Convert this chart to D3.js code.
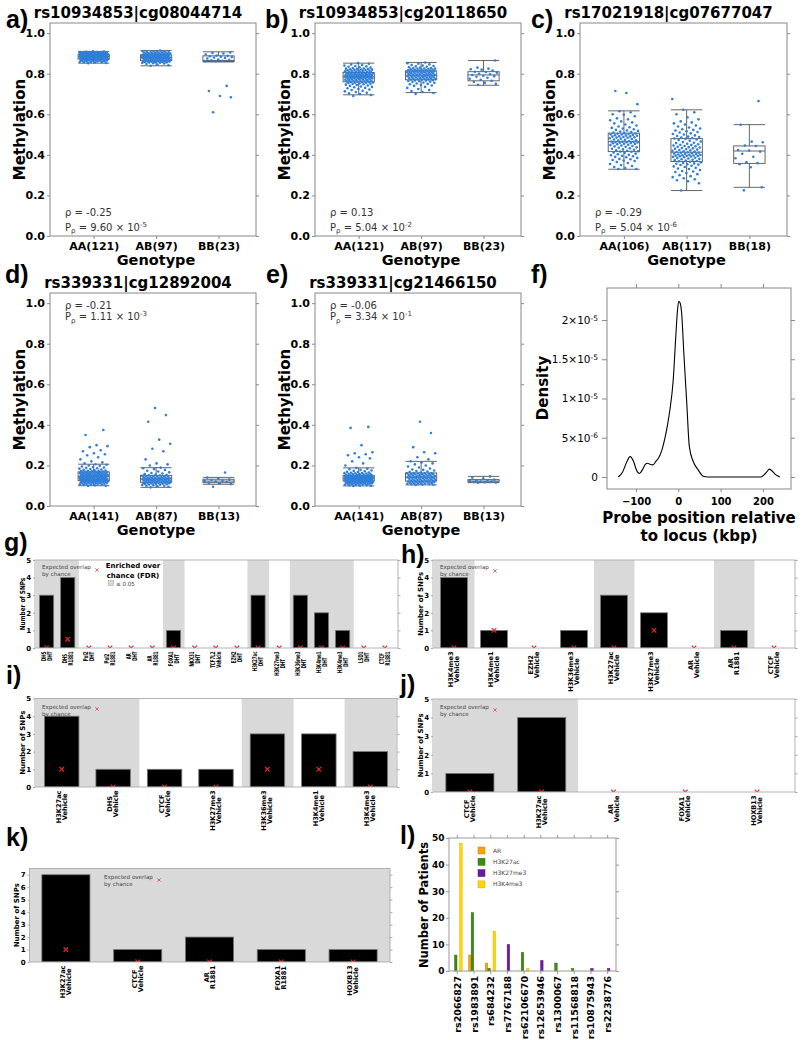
<!DOCTYPE html>
<html><head><meta charset="utf-8">
<script src="https://cdn.jsdelivr.net/npm/d3@7"></script>
<style>
body{margin:0;background:#fff;}
svg{display:block;font-family:"DejaVu Sans",sans-serif;}
</style></head><body>
<svg id="c" width="802" height="1040"></svg>
<script>
// ---------------- DATA ----------------
const methTicks = [0,0.2,0.4,0.6,0.8,1.0];
// panel a
const aTitle = "rs10934853|cg08044714";
const aLabels = ["AA(121)","AB(97)","BB(23)"];
const aBox = [[.852,.872,.885,.896,.91],[.839,.864,.88,.893,.914],[.858,.86,.865,.888,.908]];
const aPts = [
[.852,.853,.855,.856,.857,.858,.859,.86,.861,.862,.862,.863,.864,.865,.865,.866,.867,.867,.868,.868,.869,.869,.87,.87,.871,.871,.871,.872,.872,.872,
.873,.873,.874,.874,.875,.875,.876,.876,.877,.877,.878,.878,.879,.879,.88,.88,.881,.881,.882,.882,.882,.883,.883,.883,.884,.884,.884,.885,.885,.885,
.886,.886,.886,.887,.887,.887,.888,.888,.889,.889,.889,.89,.89,.89,.891,.891,.892,.892,.892,.893,.893,.893,.894,.894,.894,.895,.895,.895,.896,.896,
.897,.897,.897,.898,.898,.898,.899,.899,.899,.9,.9,.9,.901,.901,.901,.902,.902,.902,.903,.903,.903,.904,.904,.905,.905,.906,.906,.907,.908,.909,.91],
[.839,.842,.845,.848,.85,.852,.853,.854,.855,.856,.857,.858,.858,.859,.86,.86,.861,.861,.862,.862,.863,.863,.864,.864,
.865,.866,.867,.867,.868,.869,.869,.87,.871,.871,.872,.873,.873,.874,.875,.875,.876,.876,.877,.878,.878,.879,.879,.88,
.88,.881,.882,.882,.883,.883,.884,.885,.885,.886,.886,.887,.887,.888,.889,.889,.89,.89,.891,.891,.892,.892,.893,.893,
.894,.894,.895,.896,.896,.897,.897,.898,.899,.9,.9,.901,.902,.903,.903,.904,.905,.906,.907,.908,.909,.91,.911,.912,.914],
[.61,.684,.69,.715,.74,.861,.862,.864,.866,.868,.87,.875,.878,.88,.882,.884,.886,.888,.89,.895,.9,.902,.905]];
const aRho = "-0.25", aP = ["9.60","-5"];
// panel b
const bTitle = "rs10934853|cg20118650";
const bLabels = ["AA(121)","AB(97)","BB(23)"];
const bBox = [[.696,.76,.785,.806,.852],[.707,.77,.793,.814,.855],[.743,.765,.794,.81,.865]];
const bPts = [
[.69,.695,.70,.703,.706,.71,.713,.716,.72,.722,.725,.728,.73,.733,.735,.737,.74,.742,.744,.746,.748,.75,.751,.752,.754,.755,.756,.757,.758,.759,
.76,.761,.762,.763,.764,.765,.766,.767,.768,.769,.77,.771,.772,.773,.774,.775,.776,.777,.778,.778,.779,.78,.78,.781,.782,.782,.783,.783,.784,.785,
.785,.786,.787,.787,.788,.789,.789,.79,.791,.791,.792,.793,.793,.794,.795,.795,.796,.797,.797,.798,.799,.8,.8,.801,.802,.803,.803,.804,.805,.806,
.807,.808,.809,.81,.811,.812,.813,.814,.815,.816,.817,.818,.819,.82,.821,.822,.823,.824,.825,.826,.828,.83,.832,.834,.836,.838,.84,.843,.846,.849,.852],
[.70,.705,.71,.715,.72,.725,.73,.735,.74,.742,.745,.748,.75,.752,.755,.757,.76,.761,.763,.764,.766,.767,.768,.77,
.771,.772,.773,.774,.775,.776,.777,.778,.779,.78,.781,.782,.783,.784,.785,.786,.787,.788,.789,.79,.79,.791,.792,.793,
.794,.795,.796,.797,.798,.799,.8,.801,.802,.803,.804,.805,.806,.807,.807,.808,.809,.81,.81,.811,.812,.812,.813,.814,
.815,.816,.817,.818,.819,.82,.821,.822,.823,.824,.825,.826,.827,.828,.83,.832,.834,.836,.838,.84,.843,.846,.849,.852,.855],
[.745,.75,.755,.76,.765,.77,.775,.78,.785,.788,.79,.794,.797,.8,.805,.808,.81,.815,.82,.822,.825,.83,.865]];
const bRho = "0.13", bP = ["5.04","-2"];
// panel c
const cTitle = "rs17021918|cg07677047";
const cLabels = ["AA(106)","AB(117)","BB(18)"];
const cBox = [[.329,.416,.465,.507,.617],[.224,.367,.413,.48,.622],[.24,.358,.419,.444,.549]];
const cPts = [
[.33,.33,.335,.34,.345,.35,.355,.36,.365,.37,.372,.375,.378,.38,.385,.388,.39,.393,.395,.398,.40,.403,.406,.41,.412,.415,
.416,.418,.42,.422,.425,.427,.43,.432,.435,.437,.44,.442,.444,.446,.448,.45,.452,.454,.455,.457,.458,.46,.461,.462,.463,.464,.465,
.466,.468,.47,.472,.474,.476,.478,.48,.482,.484,.485,.487,.488,.49,.491,.492,.494,.495,.497,.498,.5,.501,.503,.504,.505,.507,
.51,.512,.515,.518,.52,.523,.526,.53,.533,.536,.54,.545,.55,.555,.56,.565,.57,.575,.58,.59,.598,.6,.61,.615,.65,.705,.715],
[.224,.26,.27,.275,.28,.285,.29,.295,.3,.305,.31,.315,.318,.32,.325,.33,.333,.336,.34,.343,.346,.35,.352,.354,.356,.358,.36,.363,.366,
.368,.37,.372,.374,.376,.378,.38,.382,.384,.386,.388,.39,.392,.393,.394,.395,.396,.397,.398,.399,.4,.402,.404,.405,.407,.408,.41,.411,.413,
.414,.416,.418,.42,.422,.424,.426,.428,.43,.432,.434,.436,.438,.44,.442,.444,.446,.448,.45,.452,.455,.458,.46,.463,.466,.47,.473,.476,.479,
.481,.483,.485,.488,.49,.493,.496,.5,.503,.506,.51,.513,.516,.52,.523,.526,.53,.535,.54,.545,.55,.555,.56,.565,.575,.585,.6,.61,.622,.675],
[.225,.24,.339,.354,.359,.364,.383,.391,.405,.416,.421,.424,.444,.446,.462,.465,.548,.665]];
const cRho = "-0.29", cP = ["5.04","-6"];
// panel d
const dTitle = "rs339331|cg12892004";
const dLabels = ["AA(141)","AB(87)","BB(13)"];
const dBox = [[.1,.125,.145,.168,.206],[.092,.117,.133,.151,.189],[.107,.115,.123,.132,.141]];
const dPts = [
[.10,.10,.102,.104,.105,.106,.107,.108,.109,.11,.11,.111,.112,.113,.114,.114,.115,.116,.116,.117,.118,.118,.119,.12,.12,.121,.121,.122,.122,.123,.123,.124,.124,.125,.125,
.126,.126,.127,.127,.128,.128,.129,.129,.13,.13,.131,.131,.132,.132,.133,.133,.134,.134,.135,.135,.136,.136,.137,.137,.138,.138,.139,.139,.14,.14,.141,.142,.143,.144,.145,
.146,.146,.147,.147,.148,.148,.149,.15,.15,.151,.151,.152,.153,.153,.154,.155,.155,.156,.157,.157,.158,.159,.16,.16,.161,.162,.162,.163,.164,.165,.165,.166,.167,.167,.168,
.169,.17,.171,.172,.173,.174,.175,.176,.178,.18,.182,.184,.186,.188,.19,.192,.195,.198,.2,.203,.206,.21,.215,.22,.23,.24,.25,.255,.26,.27,.275,.29,.295,.3,.35,.375],
[.092,.095,.097,.099,.1,.102,.104,.105,.106,.107,.108,.109,.11,.111,.112,.113,.113,.114,.115,.115,.116,.117,
.118,.119,.12,.121,.122,.122,.123,.124,.124,.125,.126,.126,.127,.128,.128,.129,.13,.13,.131,.132,.132,.133,
.134,.135,.135,.136,.137,.138,.139,.14,.14,.141,.142,.143,.144,.145,.146,.147,.148,.149,.15,.151,
.153,.155,.157,.16,.163,.166,.17,.174,.178,.182,.186,.189,.2,.205,.21,.23,.27,.282,.307,.327,.415,.448,.483],
[.095,.108,.112,.115,.118,.12,.123,.125,.128,.13,.135,.14,.165]];
const dRho = "-0.21", dP = ["1.11","-3"];
// panel e
const eTitle = "rs339331|cg21466150";
const eLabels = ["AA(141)","AB(87)","BB(13)"];
const eBox = [[.099,.123,.137,.15,.188],[.104,.123,.143,.163,.22],[.115,.118,.123,.13,.146]];
const ePts = [
[.099,.1,.101,.102,.103,.104,.105,.106,.107,.108,.109,.11,.11,.111,.112,.112,.113,.114,.114,.115,.115,.116,.116,.117,.117,.118,.118,.119,.119,.12,.12,.121,.121,.122,.123,
.123,.124,.124,.125,.125,.126,.126,.126,.127,.127,.128,.128,.128,.129,.129,.13,.13,.13,.131,.131,.132,.132,.132,.133,.133,.134,.134,.134,.135,.135,.135,.136,.136,.137,.137,
.137,.138,.138,.138,.139,.139,.14,.14,.14,.141,.141,.141,.142,.142,.142,.143,.143,.143,.144,.144,.144,.145,.145,.145,.146,.146,.147,.147,.147,.148,.148,.149,.149,.15,.15,
.151,.152,.153,.154,.155,.156,.157,.158,.159,.16,.161,.162,.163,.164,.165,.167,.169,.171,.173,.175,.178,.181,.184,.188,.2,.21,.22,.235,.24,.25,.255,.26,.265,.3,.385,.39],
[.104,.105,.106,.107,.108,.109,.11,.111,.112,.113,.114,.115,.116,.117,.118,.118,.119,.12,.12,.121,.122,.123,
.124,.125,.126,.127,.128,.129,.13,.131,.132,.133,.134,.135,.136,.137,.138,.138,.139,.14,.141,.141,.142,.143,
.144,.145,.146,.147,.148,.149,.15,.151,.152,.153,.154,.155,.156,.157,.158,.159,.16,.161,.162,.162,.163,
.165,.167,.17,.172,.175,.178,.18,.185,.19,.195,.2,.205,.21,.215,.22,.23,.24,.26,.265,.29,.36,.415],
[.115,.116,.117,.118,.12,.121,.123,.125,.127,.13,.135,.14,.146]];
const eRho = "-0.06", eP = ["3.34","-1"];
// panel f (density, x in kbp)
const densX = [-142,-132,-122,-114,-106,-99,-92,-84,-78,-73,-66,-60,-53,-47,-39,-31,-25,-20,-12,-6,-2,1,4,8,13,20,26,35,47,59,70,195,203,210,215,221,230,240];
const densY = [0,0.06e-5,0.19e-5,0.26e-5,0.2e-5,0.09e-5,0.045e-5,0.1e-5,0.16e-5,0.175e-5,0.16e-5,0.155e-5,0.2e-5,0.24e-5,0.34e-5,0.51e-5,0.68e-5,0.85e-5,1.24e-5,1.79e-5,2.12e-5,2.24e-5,2.22e-5,2.08e-5,1.58e-5,0.94e-5,0.39e-5,0.2e-5,0.09e-5,0.01e-5,0,0,0.03e-5,0.07e-5,0.1e-5,0.08e-5,0.03e-5,0];
const densYTicks = [0,5e-6,1e-5,1.5e-5,2e-5];
const densYTickLabels = [["0",""],["5×10","-6"],["1×10","-5"],["1.5×10","-5"],["2×10","-5"]];
const densXTicks = [-100,0,100,200];
// panel g
const gCats = [["DHS","DHT"],["DHS","R1881"],["Pol2","DHT"],["Pol2","R1881"],["AR","DHT"],["AR","R1881"],["FOXA1","DHT"],["NKX31","DHT"],["TCF7L2","Vehicle"],["EZH2","DHT"],["H3K27ac","DHT"],["H3K27me3","DHT"],["H3K36me3","DHT"],["H3K4me1","DHT"],["H3K4me3","DHT"],["LSD1","DHT"],["CTCF","R1881"]];
const gCount = [3,4,0,0,0,0,1,0,0,0,3,0,3,2,1,0,0];
const gExpected = [0,0.5,0,0,0,0,0,0,0,0,0,0,0,0,0,0,0];
const gEnriched = [1,1,0,0,0,0,1,0,0,0,1,0,1,1,1,0,0];
// panel h
const hCats = [["H3K4me3","Vehicle"],["H3K4me1","Vehicle"],["EZH2","Vehicle"],["H3K36me3","Vehicle"],["H3K27ac","Vehicle"],["H3K27me3","Vehicle"],["AR","Vehicle"],["AR","R1881"],["CTCF","Vehicle"]];
const hCount = [4,1,0,1,3,2,0,1,0];
const hExpected = [0,1,0,0,0,1,0,0,0];
const hEnriched = [1,0,0,0,1,0,0,1,0];
// panel i
const iCats = [["H3K27ac","Vehicle"],["DHS","Vehicle"],["CTCF","Vehicle"],["H3K27me3","Vehicle"],["H3K36me3","Vehicle"],["H3K4me1","Vehicle"],["H3K4me3","Vehicle"]];
const iCount = [4,1,1,1,3,3,2];
const iExpected = [1,0,0,0,1,1,0];
const iEnriched = [1,1,0,0,1,0,1];
// panel j
const jCats = [["CTCF","Vehicle"],["H3K27ac","Vehicle"],["AR","Vehicle"],["FOXA1","Vehicle"],["HOXB13","Vehicle"]];
const jCount = [1,4,0,0,0];
const jExpected = [0,0,0,0,0];
const jEnriched = [1,1,0,0,0];
// panel k
const kCats = [["H3K27ac","Vehicle"],["CTCF","Vehicle"],["AR","R1881"],["FOXA1","R1881"],["HOXB13","Vehicle"]];
const kCount = [7,1,2,1,1];
const kExpected = [1,0,0,0,0];
const kEnriched = [1,1,1,1,1];
// panel l
const lSNPs = ["rs2066827","rs1983891","rs684232","rs7767188","rs62106670","rs12653946","rs1300067","rs11568818","rs10875943","rs2238776"];
const lMarks = ["AR","H3K27ac","H3K27me3","H3K4me3"];
const lAR =       [0,6,3,0,0,0,0,0,0,0];
const lH3K27ac =  [6,22,1,0,7,0,3,1,0,0];
const lH3K27me3 = [0,0,0,10,0,4,0,0,1,1];
const lH3K4me3 =  [48,0,15,0,1,0,0,0,0,0];
const lColors = ["#f7a30c","#3d8a12","#6a1b9a","#ffd700"];
const lTicks = [0,10,20,30,40,50];

// ---------------- DRAWING ----------------
const svg = d3.select("#c");
const FONT = "DejaVu Sans";

function styleAxis(a, fs, bold, col){
  a.select(".domain").remove();
  a.attr("font-family", FONT);
  a.selectAll("line").attr("stroke", col || "#888");
  a.selectAll("text").attr("font-size", fs).attr("font-weight", bold ? "bold" : "normal").attr("fill","#000");
}

function panelLetter(t, x, y){
  svg.append("text").attr("x",x).attr("y",y).attr("font-family","Liberation Sans")
    .attr("font-weight","bold").attr("font-size",25).text(t);
}

function statText(g, x, yb1, yb2, rho, pv){
  const f = 10;
  g.append("text").attr("x",x).attr("y",yb1).attr("font-size",f).attr("fill","#333").text("ρ = " + rho);
  const t = g.append("text").attr("x",x).attr("y",yb2).attr("font-size",f).attr("fill","#333");
  t.append("tspan").text("P");
  t.append("tspan").attr("dy",2.5).attr("font-size",7).text("ρ");
  t.append("tspan").attr("dy",-2.5).text(" = " + pv[0] + " × 10");
  t.append("tspan").attr("dy",-4).attr("font-size",7).text(pv[1]);
}

function boxPanel(P){
  const g = svg.append("g");
  const x = d3.scaleLinear().domain([0.3,3.6]).range([P.x0,P.x1]);
  const y = d3.scaleLinear().domain([0,1.05]).range([P.y1,P.y0]);
  const yl = g.append("g").attr("transform",`translate(${P.x0},0)`)
    .call(d3.axisLeft(y).tickValues(methTicks).tickFormat(d3.format(".1f")).tickSize(3).tickPadding(2));
  const yr = g.append("g").attr("transform",`translate(${P.x1},0)`)
    .call(d3.axisRight(y).tickValues(methTicks).tickFormat("").tickSize(3));
  const xb = g.append("g").attr("transform",`translate(0,${P.y1})`)
    .call(d3.axisBottom(x).tickValues([1,2,3]).tickFormat((d,i)=>P.labels[i]).tickSize(3).tickPadding(3));
  [yl,yr,xb].forEach(a=>styleAxis(a,11,true));
  g.append("rect").attr("x",P.x0).attr("y",P.y0).attr("width",P.x1-P.x0).attr("height",P.y1-P.y0)
    .attr("fill","none").attr("stroke","#888").attr("stroke-width",1);
  const hw = 0.25;
  P.box.forEach((b,i)=>{
    const cx = i+1;
    const bg = g.append("g").attr("stroke","#555").attr("stroke-width",0.9).attr("fill","none");
    bg.append("rect").attr("x",x(cx-hw)).attr("width",x(cx+hw)-x(cx-hw)).attr("y",y(b[3])).attr("height",y(b[1])-y(b[3]));
    bg.append("line").attr("x1",x(cx-hw)).attr("x2",x(cx+hw)).attr("y1",y(b[2])).attr("y2",y(b[2]));
    bg.append("line").attr("x1",x(cx)).attr("x2",x(cx)).attr("y1",y(b[3])).attr("y2",y(b[4]));
    bg.append("line").attr("x1",x(cx)).attr("x2",x(cx)).attr("y1",y(b[1])).attr("y2",y(b[0]));
    bg.append("line").attr("x1",x(cx-hw)).attr("x2",x(cx+hw)).attr("y1",y(b[4])).attr("y2",y(b[4]));
    bg.append("line").attr("x1",x(cx-hw)).attr("x2",x(cx+hw)).attr("y1",y(b[0])).attr("y2",y(b[0]));
  });
  P.pts.forEach((arr,i)=>{
    g.append("g").selectAll("circle").data(arr).join("circle")
      .attr("cx",(d,k)=>x(i+1 + (((k*0.6180339887+0.31)%1)-0.5)*0.46))
      .attr("cy",d=>y(d)).attr("r",1.3).attr("fill","#2f7fd9");
  });
  const mid = (P.x0+P.x1)/2;
  g.append("text").attr("x",mid-15).attr("y",P.y0-5.5).attr("text-anchor","middle")
    .attr("font-size",15).attr("font-weight","bold").text(P.title);
  g.append("text").attr("x",mid+3).attr("y",P.y1+29).attr("text-anchor","middle")
    .attr("font-size",14.5).attr("font-weight","bold").text("Genotype");
  g.append("text").attr("transform",`translate(${P.x0-25},${(P.y0+P.y1)/2}) rotate(-90)`)
    .attr("text-anchor","middle").attr("font-size",15).attr("font-weight","bold").text("Methylation");
  if (P.statTop) statText(g, P.x0+15, P.y0+16, P.y0+27, P.rho, P.pv);
  else statText(g, P.x0+15, P.y1-20, P.y1-5.5, P.rho, P.pv);
}

boxPanel({x0:50,x1:256,y0:23,y1:236,title:aTitle,labels:aLabels,box:aBox,pts:aPts,rho:aRho,pv:aP});
boxPanel({x0:315,x1:521,y0:23,y1:236,title:bTitle,labels:bLabels,box:bBox,pts:bPts,rho:bRho,pv:bP});
boxPanel({x0:580,x1:787,y0:23,y1:236,title:cTitle,labels:cLabels,box:cBox,pts:cPts,rho:cRho,pv:cP});
boxPanel({x0:50,x1:256,y0:293,y1:506,title:dTitle,labels:dLabels,box:dBox,pts:dPts,rho:dRho,pv:dP,statTop:true});
boxPanel({x0:315,x1:521,y0:293,y1:506,title:eTitle,labels:eLabels,box:eBox,pts:ePts,rho:eRho,pv:eP,statTop:true});

// ---- panel f ----
(function(){
  const x0=607,x1=791,y0=288,y1=489;
  const g = svg.append("g");
  const x = d3.scaleLinear().domain([-168.6,266.4]).range([x0,x1]);
  const y = d3.scaleLinear().domain([-0.153e-5,2.408e-5]).range([y1,y0]);
  const yl = g.append("g").attr("transform",`translate(${x0},0)`)
    .call(d3.axisLeft(y).tickValues(densYTicks).tickSize(5).tickPadding(4));
  styleAxis(yl,10.5,false);
  yl.selectAll(".tick text").each(function(d,i){
    const t = d3.select(this); t.text(null);
    t.append("tspan").text(densYTickLabels[i][0]);
    if (densYTickLabels[i][1]) t.append("tspan").attr("dy","-0.45em").attr("font-size",7.5).text(densYTickLabels[i][1]);
  });
  const yr = g.append("g").attr("transform",`translate(${x1},0)`).call(d3.axisRight(y).tickValues(densYTicks).tickFormat("").tickSize(4));
  const xb = g.append("g").attr("transform",`translate(0,${y1})`).call(d3.axisBottom(x).tickValues(densXTicks).tickFormat(d3.format("d")).tickSize(3).tickPadding(6));
  const xt = g.append("g").attr("transform",`translate(0,${y0})`).call(d3.axisTop(x).tickValues(densXTicks).tickFormat("").tickSize(4));
  styleAxis(yr,10,false); styleAxis(xb,10,true); styleAxis(xt,10,false);
  g.append("rect").attr("x",x0).attr("y",y0).attr("width",x1-x0).attr("height",y1-y0).attr("fill","none").attr("stroke","#888");
  const line = d3.line().x((d,i)=>x(densX[i])).y(d=>y(d)).curve(d3.curveMonotoneX);
  g.append("path").attr("d",line(densY)).attr("fill","none").attr("stroke","#000").attr("stroke-width",1.1);
  g.append("text").attr("x",699).attr("y",523).attr("text-anchor","middle").attr("font-size",15).attr("font-weight","bold").text("Probe position relative");
  g.append("text").attr("x",699).attr("y",541).attr("text-anchor","middle").attr("font-size",15).attr("font-weight","bold").text("to locus (kbp)");
  g.append("text").attr("transform",`translate(548,388) rotate(-90)`).attr("text-anchor","middle").attr("font-size",15).attr("font-weight","bold").text("Density");
})();

// ---- enrichment panels ----
function rotLabel(g, cx, ytop, lines, fs, compress, gap){
  const t = g.append("g").attr("transform",`translate(${cx},${ytop}) rotate(-90) scale(${compress},1)`);
  const n = lines.length;
  const texts = lines.map((s,i)=> t.append("text").text(s).attr("font-size",fs).attr("font-weight","bold")
     .attr("text-anchor","middle").attr("dominant-baseline","central").attr("y",(i-(n-1)/2)*gap));
  const maxW = d3.max(texts, tx=>tx.node().getComputedTextLength());
  texts.forEach(tx=>tx.attr("x",-maxW/2));
}
const XMARK = "M-2.3,-2.3L2.3,2.3M-2.3,2.3L2.3,-2.3";
let clipN = 0;
function enrichPanel(P){
  const g = svg.append("g").attr("font-family",FONT);
  const slot = d3.scaleBand().domain(d3.range(P.cats.length)).range([P.bx0,P.bx1]).padding(0);
  const y = d3.scaleLinear().domain([0,P.ymax]).range([P.y1,P.y0]);
  const id = "clip"+(clipN++);
  svg.append("clipPath").attr("id",id).append("rect").attr("x",P.x0).attr("y",P.y0).attr("width",P.x1-P.x0).attr("height",P.y1-P.y0);
  const area = g.append("g").attr("clip-path",`url(#${id})`);
  if (P.full) area.append("rect").attr("x",P.x0).attr("y",P.y0).attr("width",P.x1-P.x0).attr("height",P.y1-P.y0).attr("fill","#d9d9d9");
  else area.selectAll("rect.sh").data(P.enr.map((e,i)=>({e,i})).filter(d=>d.e)).join("rect").attr("class","sh")
    .attr("x",d=>slot(d.i)).attr("width",slot.bandwidth()+0.5).attr("y",P.y0).attr("height",P.y1-P.y0).attr("fill","#d9d9d9");
  area.append("text").attr("x",P.leg[0]).attr("y",P.leg[1]).attr("font-size",5.6).attr("fill","#444").text("Expected overlap");
  area.append("text").attr("x",P.leg[0]).attr("y",P.leg[1]+7).attr("font-size",5.6).attr("fill","#444").text("by chance");
  area.append("path").attr("d",XMARK).attr("transform",`translate(${P.leg[2]},${P.leg[3]}) scale(0.7)`).attr("stroke","#e8393a").attr("stroke-width",1.1).attr("fill","none");
  if (P.fdr){
    area.append("text").attr("x",133).attr("y",568).attr("text-anchor","middle").attr("font-size",7).attr("font-weight","bold").text("Enriched over");
    area.append("text").attr("x",133).attr("y",578).attr("text-anchor","middle").attr("font-size",7).attr("font-weight","bold").text("chance (FDR)");
    area.append("rect").attr("x",108.5).attr("y",580.5).attr("width",5).attr("height",5).attr("fill","#d9d9d9").attr("stroke","#999").attr("stroke-width",0.5);
    area.append("text").attr("x",116).attr("y",585.5).attr("font-size",5.6).attr("fill","#444").text("≤ 0.05");
  }
  const bw = slot.bandwidth();
  area.selectAll("rect.bar").data(P.count).join("rect").attr("class","bar")
    .attr("x",(d,i)=>slot(i)+bw*0.165).attr("width",bw*0.67)
    .attr("y",d=>y(d)).attr("height",d=>y(0)-y(d))
    .attr("fill","#000").attr("stroke","#777").attr("stroke-width",0.8);
  area.selectAll("path.mk").data(P.exp).join("path").attr("class","mk").attr("d",XMARK)
    .attr("transform",(d,i)=>`translate(${slot(i)+bw/2},${y(d)})`)
    .attr("stroke","#e8262a").attr("stroke-width",1.2).attr("fill","none");
  const ticks = d3.range(0,Math.floor(P.ymax)+1);
  const yl = g.append("g").attr("transform",`translate(${P.x0},0)`).call(d3.axisLeft(y).tickValues(ticks).tickFormat(d3.format("d")).tickSize(2).tickPadding(2));
  const yr = g.append("g").attr("transform",`translate(${P.x1},0)`).call(d3.axisRight(y).tickValues(ticks).tickFormat("").tickSize(2.5));
  styleAxis(yl,7,true,"#aaa"); styleAxis(yr,7,false,"#aaa");
  g.append("rect").attr("x",P.x0).attr("y",P.y0).attr("width",P.x1-P.x0).attr("height",P.y1-P.y0).attr("fill","none").attr("stroke","#aaa").attr("stroke-width",0.9);
  g.append("text").attr("transform",`translate(${P.ylabX},${(P.y0+P.y1)/2}) rotate(-90) scale(${P.ylabScale||1},1)`)
    .attr("text-anchor","middle").attr("font-size",7).attr("font-weight","bold").text("Number of SNPs");
  P.cats.forEach((c,i)=> rotLabel(g, slot(i)+bw/2, P.y1+3.5, c, 6.6, P.labScale||1, 6));
}

enrichPanel({x0:35,x1:398,bx0:36,bx1:395.5,y0:560,y1:648,ymax:5,cats:gCats,count:gCount,exp:gExpected,enr:gEnriched,
  leg:[42,569,97,570],fdr:true,ylabX:25,ylabScale:0.82,labScale:0.6});
enrichPanel({x0:433,x1:795,bx0:434,bx1:794,y0:560,y1:648,ymax:5,cats:hCats,count:hCount,exp:hExpected,enr:hEnriched,
  leg:[440,569,495,571],ylabX:423});
enrichPanel({x0:35,x1:397,bx0:36,bx1:396,y0:698.5,y1:787,ymax:5,cats:iCats,count:iCount,exp:iExpected,enr:iEnriched,
  leg:[42,709,97,709],ylabX:25});
enrichPanel({x0:433,x1:795,bx0:434,bx1:793,y0:699,y1:792,ymax:5,cats:jCats,count:jCount,exp:jExpected,enr:jEnriched,
  leg:[440,709,495,710],ylabX:423});
enrichPanel({x0:29.5,x1:390,bx0:30,bx1:389,y0:868.5,y1:962,ymax:7.5,cats:kCats,count:kCount,exp:kExpected,enr:kEnriched,full:true,
  leg:[104,879,159,880],ylabX:18.5});

// ---- panel l ----
(function(){
  const x0=449,x1=616,y0=838,y1=971;
  const g = svg.append("g").attr("font-family",FONT);
  const x = d3.scaleBand().domain(lSNPs).range([x0,x1]);
  const bw = x.bandwidth();
  const xs = d3.scaleBand().domain(lMarks).range([bw*0.17,bw*0.79]);
  const y = d3.scaleLinear().domain([0,50]).range([y1,y0]);
  const series = [lAR,lH3K27ac,lH3K27me3,lH3K4me3];
  series.forEach((s,k)=>{
    g.append("g").selectAll("rect").data(s).join("rect")
      .attr("x",(d,i)=>x(lSNPs[i])+xs(lMarks[k])).attr("width",xs.bandwidth())
      .attr("y",d=>y(d)).attr("height",d=>y(0)-y(d))
      .attr("fill",lColors[k]).attr("stroke",d3.color(lColors[k]).darker(0.6)).attr("stroke-width",0.4)
      .attr("display",d=>d>0?null:"none");
  });
  const yl = g.append("g").attr("transform",`translate(${x0},0)`).call(d3.axisLeft(y).tickValues(lTicks).tickSize(3).tickPadding(1.5));
  const yr = g.append("g").attr("transform",`translate(${x1},0)`).call(d3.axisRight(y).tickValues(lTicks).tickFormat("").tickSize(3));
  const xb = g.append("g").attr("transform",`translate(0,${y1})`).call(d3.axisBottom(x).tickFormat("").tickSize(3));
  const xt = g.append("g").attr("transform",`translate(0,${y0})`).call(d3.axisTop(x).tickFormat("").tickSize(3));
  styleAxis(yl,9,true,"#999"); styleAxis(yr,11,false,"#999"); styleAxis(xb,11,false,"#999"); styleAxis(xt,11,false,"#999");
  g.append("rect").attr("x",x0).attr("y",y0).attr("width",x1-x0).attr("height",y1-y0).attr("fill","none").attr("stroke","#999");
  lSNPs.forEach(s=>{
    g.append("text").attr("transform",`translate(${x(s)+bw/2},${y1+5}) rotate(-90)`)
      .attr("text-anchor","end").attr("dominant-baseline","central").attr("font-size",9.5).attr("font-weight","bold").text(s);
  });
  g.append("text").attr("transform",`translate(428,905) rotate(-90)`).attr("text-anchor","middle")
    .attr("font-size",11.5).attr("font-weight","bold").text("Number of Patients");
  lMarks.forEach((m,k)=>{
    const yy = 847 + k*11.3;
    g.append("rect").attr("x",478).attr("y",yy).attr("width",7).attr("height",7).attr("fill",lColors[k]).attr("stroke",d3.color(lColors[k]).darker(0.6)).attr("stroke-width",0.5);
    g.append("text").attr("x",493).attr("y",yy+5.5).attr("font-size",6).attr("fill","#444").text(m);
  });
})();

// panel letters
[["a)",6,28],["b)",265,28],["c)",531,28],["d)",5,283],["e)",266,283],["f)",531,283],
 ["g)",4,551],["h)",401,563],["i)",6,684],["j)",400,693],["k)",6,846],["l)",400,844]]
 .forEach(p=>panelLetter(p[0],p[1],p[2]));
</script>
</body></html>
